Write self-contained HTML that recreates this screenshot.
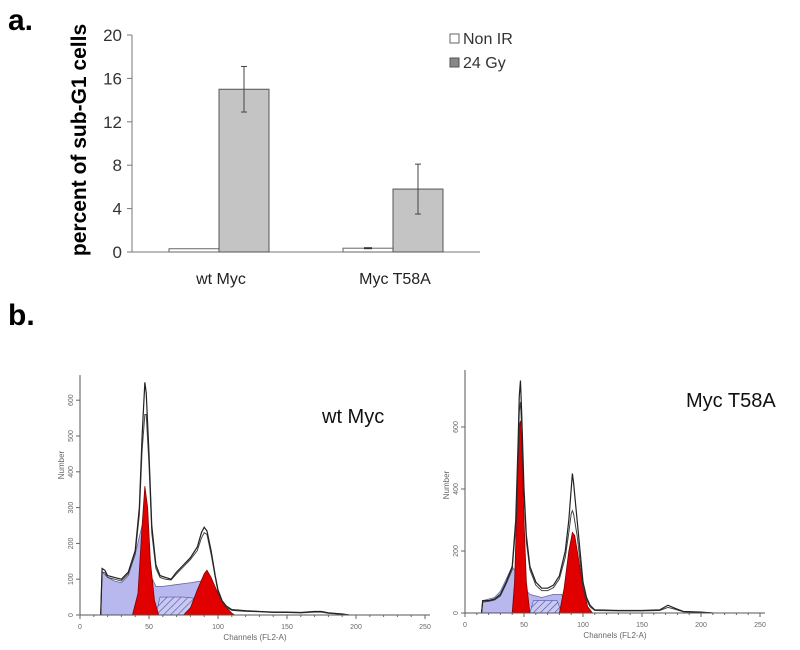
<!DOCTYPE html>
<html><head><meta charset="utf-8"><style>
body{margin:0;background:#fff}
svg{display:block;font-family:"Liberation Sans",sans-serif}
</style></head><body>
<svg id="fig" width="800" height="650" viewBox="0 0 800 650">
<text x="8" y="30" font-size="30" font-weight="bold">a.</text>
<text x="8" y="325" font-size="30" font-weight="bold">b.</text>
<g id="bar"></g>
<g id="h1"></g>
<g id="h2"></g>
</svg>
<script>
// ---- bar chart data ----
const barCategories = ["wt Myc", "Myc T58A"];
const nonIR = [0.3, 0.35];
const gy24 = [15.0, 5.8];
const gy24ErrLow = [12.9, 3.5];
const gy24ErrHigh = [17.1, 8.1];
const nonIRErr = [0.0, 0.05];
const yTicks = [0, 4, 8, 12, 16, 20];

// ---- histogram data (channel, count) ----
const wtOutlineCh = [15,16,18,20,25,30,35,40,43,45,47,48,50,52,55,58,62,66,70,75,80,85,88,90,92,95,98,100,103,106,110,120,130,140,150,160,170,175,180,190,195];
const wtOutline = [0,130,125,110,105,100,120,180,300,500,650,620,450,250,140,110,105,100,120,140,160,190,230,245,235,180,110,70,40,25,15,12,10,8,8,7,10,10,6,3,0];
const wtOutline2 = [0,120,118,105,100,95,115,170,280,460,560,560,420,230,130,105,100,98,115,135,155,180,215,230,225,170,105,65,38,22,13,10,9,7,7,6,8,8,5,2,0];
const wtBlueCh = [15,16,20,25,30,35,40,45,50,55,60,70,80,88,95,100,106];
const wtBlue = [0,120,105,95,90,110,170,250,120,80,80,85,90,95,60,30,0];
const wtG1Ch = [38,42,45,47,49,51,54,57];
const wtG1 = [0,60,250,360,300,150,40,0];
const wtG2Ch = [75,80,85,90,92,95,100,105,110,112];
const wtG2 = [0,20,70,115,125,105,60,25,5,0];
const wtSCh = [55,58,75,88,90];
const wtS = [0,50,50,45,0];

const mtOutlineCh = [14,15,20,25,30,35,40,43,45,46,47,48,50,52,55,60,65,70,75,80,85,88,90,91,92,95,98,100,103,106,110,130,150,165,172,178,185,200,210];
const mtOutline = [0,40,40,45,60,100,150,300,550,700,750,650,400,250,150,100,80,80,90,120,200,300,400,450,420,300,180,100,50,25,10,8,8,10,25,15,5,3,0];
const mtOutline2 = [0,35,38,42,55,95,140,280,520,650,680,600,380,230,140,90,72,72,82,110,180,260,320,330,320,250,150,85,42,20,8,7,7,8,18,12,4,2,0];
const mtBlueCh = [14,15,25,30,35,40,45,50,55,65,75,82,86];
const mtBlue = [0,40,50,70,110,150,120,80,60,50,60,60,0];
const mtG1Ch = [40,42,44,46,47,48,50,52,55];
const mtG1 = [0,100,350,600,620,550,300,100,0];
const mtG2Ch = [80,84,88,91,93,96,100,104,108];
const mtG2 = [0,80,200,260,250,180,80,20,0];
const mtSCh = [55,58,78,82];
const mtS = [0,40,40,0];
const chTicks = [0,50,100,150,200,250];
const wtCountTicks = [0,100,200,300,400,500,600];
const mtCountTicks = [0,200,400,600];

const NS="http://www.w3.org/2000/svg";
function mk(parent,tag,attrs,name,text){
  const e=document.createElementNS(NS,tag);
  for(const k in attrs)e.setAttribute(k,attrs[k]);
  
  
  if(text!==undefined)e.textContent=text;
  parent.appendChild(e);return e;
}
const defs=mk(document.getElementById('fig'),'defs',{},'defs');
const pat=mk(defs,'pattern',{id:'hatch',width:5,height:5,patternUnits:'userSpaceOnUse',patternTransform:'rotate(45)'},'hatch-pattern');
mk(pat,'rect',{width:5,height:5,fill:'#c9c9f2'},'hatch-bg');
mk(pat,'line',{x1:0,y1:0,x2:0,y2:5,stroke:'#5555aa','stroke-width':1.3},'hatch-line');

// ---- bar chart ----
const bar=document.getElementById('bar');
const bx0=132,bx1=480,by0=252,byTop=35;
const yS=v=>by0-(v/20)*(by0-byTop);
mk(bar,'line',{x1:bx0,y1:byTop,x2:bx0,y2:by0,stroke:'#777','stroke-width':1},'y-axis');
mk(bar,'line',{x1:bx0,y1:by0,x2:bx1,y2:by0,stroke:'#777','stroke-width':1},'x-axis');
yTicks.forEach(t=>{
  mk(bar,'line',{x1:bx0-5,y1:yS(t),x2:bx0,y2:yS(t),stroke:'#777'},'y-tick');
  mk(bar,'text',{x:bx0-10,y:yS(t)+6,'font-size':17,'text-anchor':'end',fill:'#333'},'y-tick-label',t);
});
mk(bar,'text',{transform:'translate(86,140) rotate(-90)','font-size':21,'font-weight':'bold','text-anchor':'middle'},'y-axis-title','percent of sub-G1 cells');
const groupW=(bx1-bx0)/2, bw=50;
barCategories.forEach((c,i)=>{
  const cx=bx0+groupW*i+groupW*0.5;
  mk(bar,'rect',{x:cx-bw,y:yS(nonIR[i]),width:bw,height:by0-yS(nonIR[i]),fill:'#fff',stroke:'#666'},'bar-nonir-'+i);
  if(nonIRErr[i]>0){mk(bar,'line',{x1:cx-bw/2-4,y1:yS(nonIR[i]),x2:cx-bw/2+4,y2:yS(nonIR[i]),stroke:'#333','stroke-width':2},'error-nonir');}
  mk(bar,'rect',{x:cx,y:yS(gy24[i]),width:bw,height:by0-yS(gy24[i]),fill:'#c4c4c4',stroke:'#555'},'bar-24gy-'+i);
  const ex=cx+bw/2;
  mk(bar,'line',{x1:ex,y1:yS(gy24ErrHigh[i]),x2:ex,y2:yS(gy24ErrLow[i]),stroke:'#444'},'error-bar');
  mk(bar,'line',{x1:ex-3,y1:yS(gy24ErrHigh[i]),x2:ex+3,y2:yS(gy24ErrHigh[i]),stroke:'#444'},'error-cap');
  mk(bar,'line',{x1:ex-3,y1:yS(gy24ErrLow[i]),x2:ex+3,y2:yS(gy24ErrLow[i]),stroke:'#444'},'error-cap');
  mk(bar,'text',{x:cx+2,y:284,'font-size':16,'text-anchor':'middle',fill:'#222'},'x-category-label',c);
});
mk(bar,'rect',{x:450,y:34,width:9,height:9,fill:'#fff',stroke:'#666'},'legend-swatch-nonir');
mk(bar,'text',{x:463,y:44,'font-size':16,fill:'#333'},'legend-label-nonir','Non IR');
mk(bar,'rect',{x:450,y:58,width:9,height:9,fill:'#888',stroke:'#555'},'legend-swatch-24gy');
mk(bar,'text',{x:463,y:68,'font-size':16,fill:'#333'},'legend-label-24gy','24 Gy');

// ---- histograms ----
function hist(g,o){
  const X=c=>o.x0+c*o.kx, Y=v=>o.y0-v*o.ky;
  const area=(ch,v)=>'M'+X(ch[0])+','+o.y0+' '+ch.map((c,i)=>'L'+X(c)+','+Y(v[i])).join(' ')+' L'+X(ch[ch.length-1])+','+o.y0+'Z';
  const line=(ch,v)=>ch.map((c,i)=>(i?'L':'M')+X(c)+','+Y(v[i])).join(' ');
  mk(g,'path',{d:area(o.blueCh,o.blue),fill:'#b8b8ee',stroke:'#6666aa','stroke-width':0.8},'debris-fill');
  mk(g,'path',{d:area(o.sCh,o.s),fill:'url(#hatch)',stroke:'#5555aa','stroke-width':0.6},'s-phase-fill');
  mk(g,'path',{d:area(o.g1Ch,o.g1),fill:'#e00000',stroke:'#800','stroke-width':0.8},'g1-peak-fill');
  mk(g,'path',{d:area(o.g2Ch,o.g2),fill:'#e00000',stroke:'#800','stroke-width':0.8},'g2-peak-fill');
  mk(g,'path',{d:line(o.outCh,o.out2),fill:'none',stroke:'#444','stroke-width':1},'outline-fit');
  mk(g,'path',{d:line(o.outCh,o.out),fill:'none',stroke:'#222','stroke-width':1.2},'outline-data');
  mk(g,'line',{x1:o.x0,y1:o.y0,x2:o.xEnd,y2:o.y0,stroke:'#555'},'x-axis');
  mk(g,'line',{x1:o.x0,y1:o.y0,x2:o.x0,y2:o.yTop,stroke:'#555'},'y-axis');
  for(let c=0;c<=250;c+=10){mk(g,'line',{x1:X(c),y1:o.y0,x2:X(c),y2:o.y0+(c%50?2:4),stroke:'#666'},'x-tick');}
  chTicks.forEach(c=>mk(g,'text',{x:X(c),y:o.y0+14,'font-size':7,'text-anchor':'middle',fill:'#666'},'x-tick-label',c));
  o.cTicks.forEach(v=>{
    mk(g,'line',{x1:o.x0-4,y1:Y(v),x2:o.x0,y2:Y(v),stroke:'#666'},'y-tick');
    mk(g,'text',{transform:`translate(${o.x0-7},${Y(v)}) rotate(-90)`,'font-size':7,'text-anchor':'middle',fill:'#666'},'y-tick-label',v);
  });
  mk(g,'text',{x:(o.x0+o.xEnd)/2,y:o.y0+25,'font-size':8,'text-anchor':'middle',fill:'#666'},'x-axis-title','Channels (FL2-A)');
  mk(g,'text',{transform:`translate(${o.x0-16},${o.yTitle}) rotate(-90)`,'font-size':8,'text-anchor':'middle',fill:'#666'},'y-axis-title','Number');
  mk(g,'text',{x:o.lx,y:o.ly,'font-size':20,fill:'#111'},'panel-title',o.title);
}
hist(document.getElementById('h1'),{x0:80,kx:1.38,y0:615,ky:0.358,xEnd:430,yTop:375,yTitle:465,
  outCh:wtOutlineCh,out:wtOutline,out2:wtOutline2,blueCh:wtBlueCh,blue:wtBlue,g1Ch:wtG1Ch,g1:wtG1,g2Ch:wtG2Ch,g2:wtG2,sCh:wtSCh,s:wtS,
  cTicks:wtCountTicks,title:'wt Myc',lx:322,ly:423});
hist(document.getElementById('h2'),{x0:465,kx:1.18,y0:613,ky:0.31,xEnd:765,yTop:370,yTitle:485,
  outCh:mtOutlineCh,out:mtOutline,out2:mtOutline2,blueCh:mtBlueCh,blue:mtBlue,g1Ch:mtG1Ch,g1:mtG1,g2Ch:mtG2Ch,g2:mtG2,sCh:mtSCh,s:mtS,
  cTicks:mtCountTicks,title:'Myc T58A',lx:686,ly:407});
</script>
</body></html>
